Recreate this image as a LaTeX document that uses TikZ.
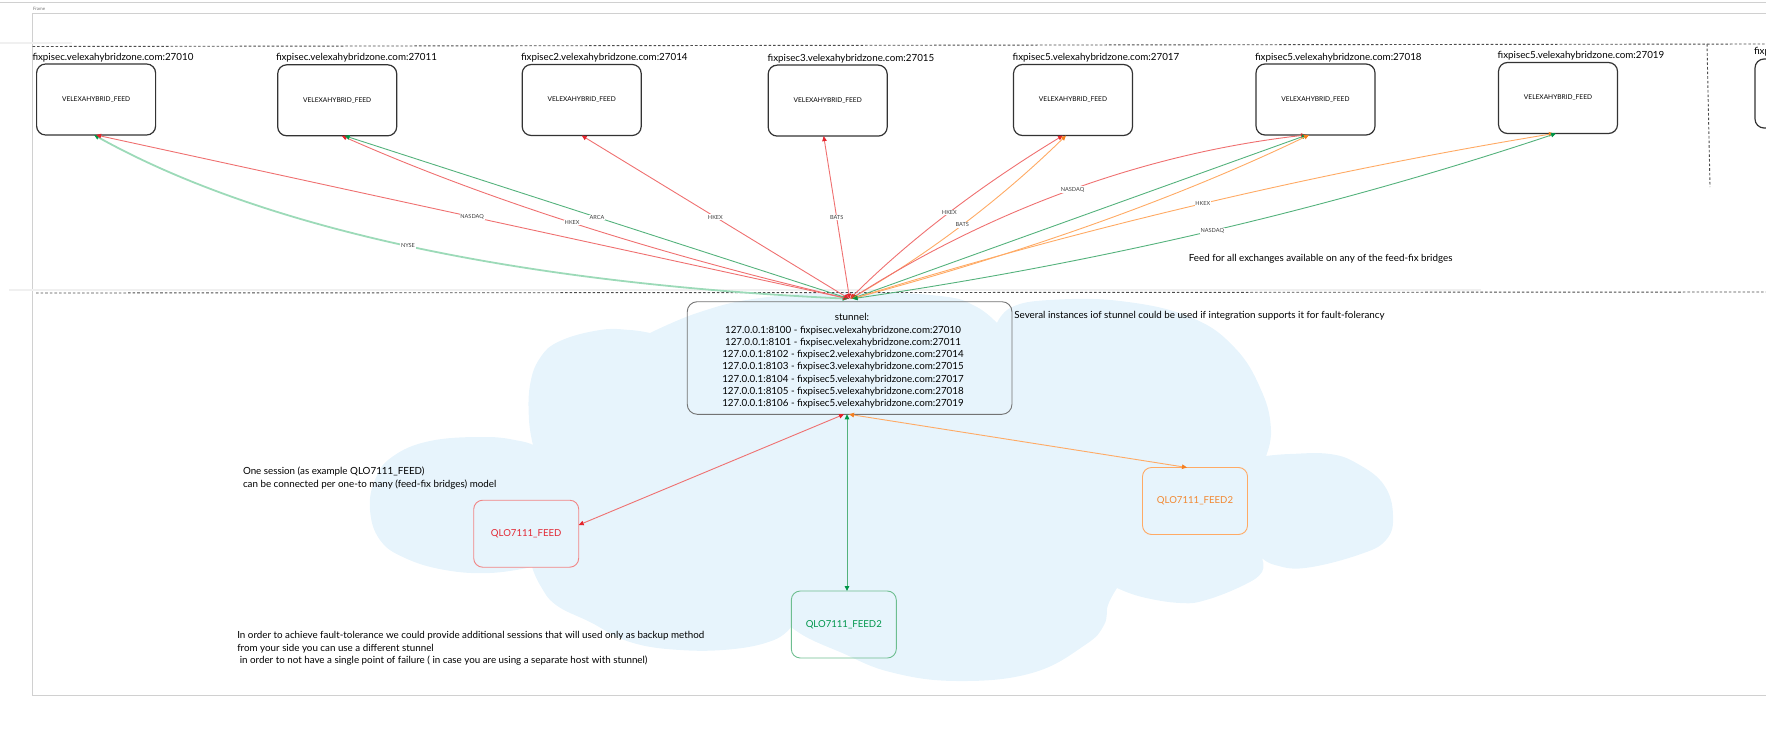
\documentclass[tikz,border=0pt]{standalone}
\usepackage{fontspec}
\setmainfont{Lato}
\usetikzlibrary{arrows.meta,calc}

\definecolor{cloudblue}{RGB}{231,244,252}
\definecolor{framegray}{RGB}{208,208,208}
\definecolor{linered}{RGB}{239,112,112}
\definecolor{linegreen}{RGB}{84,178,124}
\definecolor{lineorange}{RGB}{255,170,100}
\definecolor{nysegreen}{RGB}{156,218,184}
\definecolor{headred}{RGB}{228,36,44}
\definecolor{headgreen}{RGB}{0,150,72}
\definecolor{headorange}{RGB}{245,128,32}
\definecolor{textred}{RGB}{226,40,52}
\definecolor{textgreen}{RGB}{0,150,76}
\definecolor{textorange}{RGB}{242,136,48}

\begin{document}
\begin{tikzpicture}[x=1pt,y=-1pt,
  every node/.style={inner sep=0pt,outer sep=0pt},
  feedbox/.style={draw=black!80,line width=1.2pt,rounded corners=9pt,fill=white,
    minimum width=119pt,minimum height=71pt,font=\fontsize{6.6}{8}\selectfont},
  host/.style={anchor=west,font=\fontsize{9.8}{11}\selectfont},
  note/.style={font=\fontsize{9.8}{13}\selectfont},
  sessbox/.style={line width=0.9pt,rounded corners=9pt,minimum width=105pt,
    minimum height=67pt,font=\fontsize{9.6}{11}\selectfont},
  elabel/.style={fill=white,inner sep=0.7pt,text=black!75,font=\fontsize{5.6}{6}\selectfont},
  link/.style 2 args={draw=#1,line width=0.9pt,
    {Triangle[length=5pt,width=4.5pt,color=#2]}-{Triangle[length=5pt,width=4.5pt,color=#2]}},
  divider/.style={draw=black!70,line width=0.9pt,dash pattern=on 2.6pt off 2pt},
]
\useasboundingbox (0,0) rectangle (1766,741);
\clip (0,0) rectangle (1766,741);

% canvas guides
\draw[framegray,line width=1pt] (0,3) -- (1766,3);
\draw[framegray,line width=1pt] (1766,14) -- (32.5,14) -- (32.5,695) -- (1766,695);
\draw[black!6,line width=1.5pt] (0,43) -- (72,43);
\draw[black!6,line width=2pt] (9,289.5) -- (1481,289.5);
\node[anchor=west,text=black!55,font=\fontsize{4.5}{5}\selectfont] (framelbl) at (33,9) {Frame};

% cloud behind the local side
\fill[cloudblue]
  plot[smooth,tension=0.7] coordinates {(650,333) (700,312) (760,298) (850,292) (940,296) (975,306) (997,323)}
  -- plot[smooth,tension=0.7] coordinates {(997,323) (1012,307) (1050,300) (1120,301) (1190,317) (1235,348) (1262,392) (1271,430) (1266,456)}
  -- plot[smooth,tension=0.7] coordinates {(1266,456) (1290,454) (1330,454) (1358,464) (1384,485) (1393,515) (1386,540) (1358,555) (1305,568) (1275,565) (1262,558)}
  -- plot[smooth,tension=0.7] coordinates {(1262,558) (1262,572) (1244,585) (1206,600) (1180,603) (1142,597) (1117,588)}
  -- plot[smooth,tension=0.7] coordinates {(1117,588) (1108,605) (1104,625) (1085,645) (1032,673) (957,681) (890,672) (840,652) (808,638) (791,627)}
  -- plot[smooth,tension=0.7] coordinates {(791,627) (774,640) (734,649) (680,650) (630,642) (590,622) (556,605) (540,585) (532,567)}
  -- plot[smooth,tension=0.7] coordinates {(532,567) (490,573) (445,570) (405,558) (380,540) (370,510) (375,480) (392,457) (430,441) (486,437) (520,441) (533,445)}
  -- plot[smooth,tension=0.7] coordinates {(533,445) (529,420) (530,385) (540,358) (560,341) (600,330) (630,330) (650,333)}
  -- cycle;

% zone dividers
\draw[divider] (32.5,46.5) -- (1766,44);
\draw[divider] (36,293) -- (1766,292);
\draw[divider] (1707,44) -- (1710,187);

% feed-fix bridges
\node[feedbox] (b1) at (96.1,99.5) {VELEXAHYBRID\_FEED};
\node[feedbox] (b2) at (337.2,100.3) {VELEXAHYBRID\_FEED};
\node[feedbox] (b3) at (581.7,100) {VELEXAHYBRID\_FEED};
\node[feedbox] (b4) at (827.7,100.6) {VELEXAHYBRID\_FEED};
\node[feedbox] (b5) at (1073,100) {VELEXAHYBRID\_FEED};
\node[feedbox] (b6) at (1315.5,99.5) {VELEXAHYBRID\_FEED};
\node[feedbox] (b7) at (1558,98) {VELEXAHYBRID\_FEED};
\node[feedbox,anchor=north west,minimum height=69pt] (b8) at (1755,59) {};

\node[host] (h1) at (32.5,57.7) {fixpisec.velexahybridzone.com:27010};
\node[host] (h2) at (276,58) {fixpisec.velexahybridzone.com:27011};
\node[host] (h3) at (521,58) {fixpisec2.velexahybridzone.com:27014};
\node[host] (h4) at (767.7,59) {fixpisec3.velexahybridzone.com:27015};
\node[host] (h5) at (1012.7,57.7) {fixpisec5.velexahybridzone.com:27017};
\node[host] (h6) at (1255,57.7) {fixpisec5.velexahybridzone.com:27018};
\node[host] (h7) at (1497.7,55.7) {fixpisec5.velexahybridzone.com:27019};
\node[host] (h8) at (1754,51.7) {fixp};

% stunnel
\node[draw=black!55,line width=0.9pt,rounded corners=10pt,minimum width=324.7pt,minimum height=112.6pt] (st) at (849.6,358) {};
\node[note,align=center,font=\fontsize{9.8}{12.25}\selectfont] (sttext) at (843,361)
  {\hspace*{18pt}stunnel:\\
   127.0.0.1:8100 - fixpisec.velexahybridzone.com:27010\\
   127.0.0.1:8101 - fixpisec.velexahybridzone.com:27011\\
   127.0.0.1:8102 - fixpisec2.velexahybridzone.com:27014\\
   127.0.0.1:8103 - fixpisec3.velexahybridzone.com:27015\\
   127.0.0.1:8104 - fixpisec5.velexahybridzone.com:27017\\
   127.0.0.1:8105 - fixpisec5.velexahybridzone.com:27018\\
   127.0.0.1:8106 - fixpisec5.velexahybridzone.com:27019};
\coordinate (hub) at ([yshift=3pt]st.north);

% sessions
\node[sessbox,draw=linered!85,text=textred] (sfeed) at (526.2,533.7) {QLO7111\_FEED};
\node[sessbox,draw=linegreen!85,text=textgreen] (sgreen) at (843.8,624.5) {QLO7111\_FEED2};
\node[sessbox,draw=lineorange,text=textorange] (sorange) at (1195,501) {QLO7111\_FEED2};

% feeds from the bridges to stunnel
\draw[link={nysegreen}{headgreen},line width=1.8pt] ([xshift=-2pt]b1.south) .. controls (261,228) and (513,283) .. ([xshift=-2pt]hub) node[elabel,pos=0.5] (lnyse) {NYSE};
\draw[link={linered}{headred}] (b1.south) -- ([xshift=-1.5pt]hub) node[elabel,midway] (lnasdaq1) {NASDAQ};
\draw[link={linered}{headred}] ([xshift=4.5pt]b2.south) .. controls (480,197) and (649,252) .. ([xshift=-1pt]hub) node[elabel,pos=0.5] (lhkex2) {HKEX};
\draw[link={linegreen}{headgreen}] ([xshift=7.5pt]b2.south) -- ([xshift=-0.5pt]hub) node[elabel,midway] (larca) {ARCA};
\draw[link={linered}{headred}] (b3.south) -- ([xshift=-0.5pt]hub) node[elabel,midway] (lhkex3) {HKEX};
\draw[link={linered}{headred}] ([xshift=-4pt]b4.south) -- (hub) node[elabel,midway] (lbats4) {BATS};
\draw[link={linered}{headred}] ([xshift=-10pt]b5.south) .. controls (983,184) and (911,238) .. ([xshift=0.5pt]hub) node[elabel,pos=0.5] (lhkex5) {HKEX};
\draw[link={lineorange}{headorange}] ([xshift=-7pt]b5.south) .. controls (1000,200) and (927,255) .. ([xshift=1pt]hub) node[elabel,pos=0.5] (lbats5) {BATS};
\draw[link={linered}{headred}] ([xshift=-9.5pt]b6.south) .. controls (1147,153) and (994,208) .. ([xshift=1.5pt]hub) node[elabel,pos=0.5] (lnasdaq6) {NASDAQ};
\draw[link={linegreen}{headgreen}] ([xshift=-8.5pt]b6.south) -- ([xshift=2pt]hub);
\draw[link={lineorange}{headorange}] ([xshift=-6.5pt]b6.south) .. controls (1176,199) and (1022,253) .. ([xshift=2.5pt]hub);
\draw[link={lineorange}{headorange}] ([xshift=-4pt]b7.south) .. controls (1320,172) and (1085,227) .. ([xshift=3pt]hub) node[elabel,pos=0.5] (lhkex7) {HKEX};
\draw[link={linegreen}{headgreen}] ([xshift=-2pt]b7.south) .. controls (1333,208) and (1097,263) .. ([xshift=3pt]hub) node[elabel,pos=0.5] (lnasdaq7) {NASDAQ};

% stunnel to the sessions
\draw[link={linered}{headred}] ([xshift=-5.6pt]st.south) -- ([yshift=8.7pt]sfeed.east);
\draw[link={linegreen}{headgreen}] ([xshift=-2.6pt]st.south) -- ([xshift=3.2pt]sgreen.north);
\draw[link={lineorange}{headorange}] ([xshift=-0.6pt]st.south) -- ([xshift=-8pt]sorange.north);

% notes
\node[note,anchor=west] (nfeed) at (1188.8,258.3) {Feed for all exchanges available on any of the feed-fix bridges};
\node[note,anchor=west] (ninst) at (1014.4,316) {Several instances iof stunnel could be used if integration supports it for fault-folerancy};
\node[note,anchor=west,align=left,font=\fontsize{9.8}{13.3}\selectfont] (nsession) at (243,478.4)
  {One session (as example QLO7111\_FEED)\\can be connected per one-to many (feed-fix bridges) model};
\node[note,anchor=west,align=left,font=\fontsize{9.8}{12.5}\selectfont] (nfault) at (237.3,648.5)
  {In order to achieve fault-tolerance we could provide additional sessions that will used only as backup method\\
   from your side you can use a different stunnel\\
   \hspace*{2.5pt}in order to not have a single point of failure ( in case you are using a separate host with stunnel)};
\end{tikzpicture}
\end{document}
